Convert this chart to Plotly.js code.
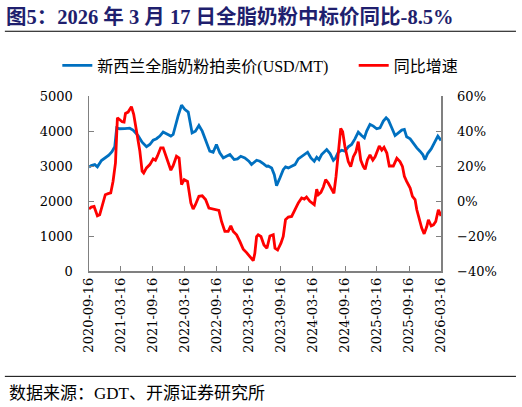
<!DOCTYPE html>
<html>
<head>
<meta charset="utf-8">
<script src="https://cdn.plot.ly/plotly-3.0.1.min.js"></script>
<style>
  html, body { margin: 0; padding: 0; background: #fff; }
  #chart { width: 522px; height: 407px; }
</style>
</head>
<body>
<div id="chart"></div>
<script>
// GDT whole milk powder auction price (USD/MT)
const priceDates = [
  '2020-09-16','2020-09-29','2020-10-19','2020-11-03','2020-11-26','2020-12-18',
  '2021-01-07','2021-01-25','2021-02-10','2021-02-21','2021-03-10','2021-04-08',
  '2021-05-06','2021-05-25','2021-06-23','2021-07-16','2021-08-10','2021-08-29',
  '2021-09-17','2021-10-06','2021-10-25','2021-11-13','2021-12-02','2021-12-27',
  '2022-01-09','2022-01-28','2022-02-06','2022-02-26','2022-03-16','2022-04-05',
  '2022-04-27','2022-05-16','2022-06-05','2022-06-24','2022-07-18','2022-08-06',
  '2022-08-25','2022-09-13','2022-10-02','2022-10-22','2022-11-09','2022-11-29',
  '2022-12-23','2023-01-11','2023-01-30','2023-02-22','2023-03-17','2023-04-01',
  '2023-04-30','2023-05-19','2023-06-07','2023-06-26','2023-07-05','2023-07-25',
  '2023-08-09','2023-08-22','2023-09-10','2023-09-29','2023-10-12','2023-10-28',
  '2023-11-16','2023-12-05','2023-12-24','2024-01-12','2024-01-31','2024-02-15',
  '2024-03-05','2024-03-24','2024-04-07','2024-04-20','2024-05-05','2024-05-24',
  '2024-06-03','2024-06-22','2024-07-11','2024-07-24','2024-08-08','2024-08-27',
  '2024-09-15','2024-10-04','2024-10-23','2024-11-11','2024-11-30','2024-12-19',
  '2025-01-04','2025-01-17','2025-02-05','2025-02-24','2025-03-15','2025-04-03',
  '2025-04-22','2025-05-08','2025-05-21','2025-06-09','2025-06-28','2025-07-17',
  '2025-08-05','2025-08-20','2025-09-02','2025-09-22','2025-10-10','2025-10-30',
  '2025-11-17','2025-12-03','2025-12-16','2025-12-31','2026-01-20','2026-02-07',
  '2026-02-27','2026-03-17'
];
const priceValues = [
  2970,3010,3040,2975,3155,3230,
  3310,3410,3550,4090,4065,4070,
  4080,4025,3870,3680,3550,3615,
  3740,3780,3855,3970,3920,3855,
  3900,4280,4426,4740,4618,4541,
  3948,3996,4159,3996,3662,3423,
  3394,3614,3375,3231,3279,3327,
  3184,3203,3279,3231,3136,3040,
  3164,3136,3069,2993,3000,2945,
  2753,2438,2658,2897,2973,2945,
  2993,3040,3203,3279,3356,3394,
  3231,3136,3250,3184,3327,3442,
  3470,3356,3164,3231,3394,3451,
  3423,3547,3614,3776,3967,3870,
  3805,3996,4187,4140,4063,4092,
  4283,4379,4312,4092,3872,3948,
  4025,4044,3834,3776,3642,3518,
  3423,3327,3184,3356,3489,3662,
  3853,3730
];

// year-on-year change (%)
const yoyDates = [
  '2020-09-16','2020-09-29','2020-10-15','2020-11-03','2020-11-16','2020-12-05',
  '2020-12-18','2021-01-03','2021-01-18','2021-01-31','2021-02-14','2021-02-25',
  '2021-03-10','2021-03-24','2021-04-04','2021-04-12','2021-04-27','2021-05-16',
  '2021-05-29','2021-06-14','2021-07-03','2021-07-16','2021-07-25','2021-08-10',
  '2021-08-29','2021-09-17','2021-09-30','2021-10-11','2021-10-19','2021-10-30',
  '2021-11-13','2021-12-02','2021-12-27','2022-01-09','2022-01-28','2022-02-12',
  '2022-02-26','2022-03-13','2022-04-01','2022-04-20','2022-05-03','2022-05-16',
  '2022-06-05','2022-06-24','2022-07-13','2022-08-01','2022-08-25','2022-09-13',
  '2022-09-27','2022-10-12','2022-10-31','2022-11-19','2022-12-04','2022-12-18',
  '2023-01-06','2023-01-25','2023-02-13','2023-03-04','2023-03-23','2023-04-11',
  '2023-04-20','2023-04-30','2023-05-09','2023-05-25','2023-06-11','2023-06-28',
  '2023-07-15','2023-08-03','2023-08-13','2023-08-28','2023-09-16','2023-09-29',
  '2023-10-12','2023-10-28','2023-11-16','2023-12-05','2023-12-24','2024-01-12',
  '2024-01-27','2024-02-09','2024-02-28','2024-03-24','2024-04-07','2024-04-16',
  '2024-05-01','2024-05-15','2024-05-28','2024-06-12','2024-07-01','2024-07-14',
  '2024-07-26','2024-08-08','2024-08-22','2024-09-02','2024-09-15','2024-10-04',
  '2024-10-18','2024-11-02','2024-11-17','2024-11-30','2024-12-14','2024-12-29',
  '2025-01-08','2025-01-21','2025-02-05','2025-02-21','2025-03-06','2025-03-30',
  '2025-04-13','2025-04-26','2025-05-12','2025-05-26','2025-06-18','2025-07-08',
  '2025-07-26','2025-08-09','2025-08-20','2025-09-02','2025-09-22','2025-10-05',
  '2025-10-20','2025-10-30','2025-11-12','2025-11-27','2025-12-11','2025-12-26',
  '2026-01-04','2026-01-20','2026-02-02','2026-02-15','2026-03-02','2026-03-17'
];
const yoyValues = [
  -4.6,-3.5,-3.1,-8.5,-7.9,-0.2,
  3.6,4.2,4.6,11.2,21.8,47.6,
  46.2,45.3,45.1,50.0,50.8,53.9,
  49.5,40.9,28.5,17.0,16.0,18.9,
  20.8,24.1,23.3,25.6,27.9,30.4,
  30.4,24.6,17.6,20.2,25.6,24.6,
  9.3,12.2,11.2,-1.1,-4.6,-2.1,
  2.7,3.0,0.8,-4.0,-4.6,-5.4,
  -5.4,-11.7,-17.4,-17.4,-14.2,-17.4,
  -19.3,-23.2,-27.6,-29.5,-31.8,-34.1,
  -29.9,-20.3,-19.3,-20.3,-25.1,-27.0,
  -20.0,-19.3,-27.0,-28.0,-24.1,-20.3,
  -10.7,-9.2,-8.8,-5.0,-1.1,1.7,
  1.1,2.3,-0.2,-2.1,6.8,3.6,
  4.9,8.0,12.2,10.3,6.5,4.4,
  13.9,29.1,41.5,39.6,31.0,22.5,
  19.6,25.3,28.2,33.9,23.4,19.6,
  18.1,23.4,26.3,23.4,25.3,31.4,
  29.1,30.7,27.4,20.0,20.0,24.4,
  22.5,19.8,14.1,11.2,7.4,2.7,
  0.8,-5.0,-9.8,-15.5,-18.8,-14.6,
  -10.7,-14.2,-13.6,-11.7,-5.0,-8.5
];

const tickDates = [
  '2020-09-16','2021-03-16','2021-09-16','2022-03-16','2022-09-16','2023-03-16',
  '2023-09-16','2024-03-16','2024-09-16','2025-03-16','2025-09-16','2026-03-16'
];

const titleText = '图5：2026 年 3 月 17 日全脂奶粉中标价同比-8.5%';
const sourceText = '数据来源：GDT、开源证券研究所';
const priceName = '新西兰全脂奶粉拍卖价(USD/MT)';
const yoyName = '同比增速';

const serif = '"Liberation Serif", "Noto Sans CJK SC", serif';
const tickFont = {family: '"DejaVu Serif", serif', size: 13, color: '#000'};
const axisColor = '#808080';

/**
 * Builds the shared look of the two value axes.
 * @param  {array}  range  min and max
 * @param  {number} dtick  tick step
 * @return {object}        axis options
 */
function valueAxis(range, dtick){
  return {
    range: range,
    dtick: dtick,
    showgrid: false,
    zeroline: false,
    showline: true,
    linecolor: axisColor,
    linewidth: 1.5,
    ticks: 'inside',
    ticklen: 5,
    tickcolor: axisColor,
    tickfont: tickFont,
    ticklabelstandoff: 12,
    fixedrange: true
  };
}

/**
 * One legend box placed above the plot.
 * @param  {number} x paper x of the box
 * @return {object}   legend options
 */
function legendAt(x){
  return {
    orientation: 'h',
    x: x, xanchor: 'left',
    y: 1.175, yanchor: 'middle',
    font: {family: serif, size: 16, color: '#000'},
    bgcolor: 'rgba(0,0,0,0)'
  };
}

/**
 * Draws the price / yoy double axis chart.
 * @param  {string} divId id of target div
 */
function drawChart(divId){
  const price = {
    x: priceDates,
    y: priceValues,
    name: priceName,
    type: 'scatter',
    mode: 'lines',
    line: {color: '#0070C0', width: 2.8},
    yaxis: 'y',
    legend: 'legend'
  };
  const yoy = {
    x: yoyDates,
    y: yoyValues,
    name: yoyName,
    type: 'scatter',
    mode: 'lines',
    line: {color: '#FF0000', width: 2.8},
    yaxis: 'y2',
    legend: 'legend2'
  };

  const y2 = valueAxis([-40, 60], 20);
  y2.overlaying = 'y';
  y2.side = 'right';
  y2.ticksuffix = '%';

  const layout = {
    width: 522,
    height: 407,
    margin: {l: 89, r: 81, t: 96, b: 136},
    paper_bgcolor: '#fff',
    plot_bgcolor: '#fff',
    showlegend: true,
    title: {
      text: '<b>' + titleText + '</b>',
      font: {family: serif, size: 20.5, color: '#1f1f6e'},
      xref: 'container', yref: 'container',
      x: 6 / 522, xanchor: 'left',
      y: 1 - 17 / 407, yanchor: 'middle'
    },
    legend: legendAt(-0.09),
    legend2: legendAt(0.752),
    xaxis: {
      type: 'date',
      range: ['2020-09-16', '2026-03-17'],
      tickvals: tickDates,
      ticktext: tickDates,
      tickangle: -90,
      showgrid: false,
      zeroline: false,
      showline: true,
      linecolor: axisColor,
      linewidth: 1.5,
      ticks: 'inside',
      ticklen: 5,
      tickcolor: axisColor,
      tickfont: tickFont,
      fixedrange: true
    },
    yaxis: valueAxis([0, 5000], 1000),
    yaxis2: y2,
    shapes: [
      {type: 'line', xref: 'paper', yref: 'paper',
       x0: -0.239, x1: 1.213, y0: 1.37, y1: 1.37,
       line: {color: '#000', width: 1}},
      {type: 'line', xref: 'paper', yref: 'paper',
       x0: -0.239, x1: 1.213, y0: -0.602, y1: -0.602,
       line: {color: '#000', width: 1}}
    ],
    annotations: [
      {text: sourceText, xref: 'paper', yref: 'paper',
       x: -0.233, y: -0.699, xanchor: 'left', yanchor: 'middle',
       showarrow: false,
       font: {family: serif, size: 17, color: '#000'}}
    ]
  };

  Plotly.newPlot(divId, [price, yoy], layout, {staticPlot: true, displayModeBar: false});
}

drawChart('chart');
</script>
</body>
</html>
